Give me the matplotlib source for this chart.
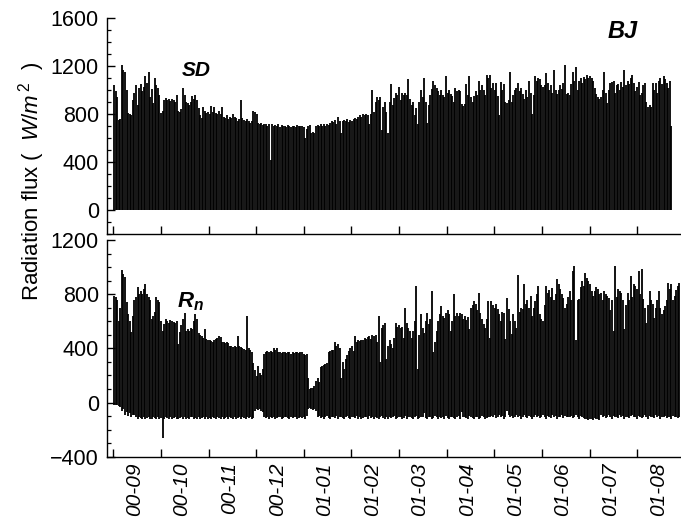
import numpy as np
import matplotlib
matplotlib.use("Agg")
import matplotlib.pyplot as plt

plt.rcParams['font.family'] = 'Liberation Sans'
plt.rcParams['mathtext.fontset'] = 'custom'
plt.rcParams['mathtext.rm'] = 'Liberation Sans'
plt.rcParams['mathtext.it'] = 'Liberation Sans:italic'
plt.rcParams['mathtext.bf'] = 'Liberation Sans:bold'
plt.rcParams['mathtext.bfit'] = 'Liberation Sans:italic:bold'

# month labels (yy-mm), one per tick
months = ['00-09', '00-10', '00-11', '00-12', '01-01', '01-02',
          '01-03', '01-04', '01-05', '01-06', '01-07', '01-08']

# daily peak of downward shortwave (SD), W/m2, night values are zero
sd_peak = [
    1040, 990, 940, 750, 760, 1210, 1170, 1150, 1000, 810, 800, 790,
    920, 980, 1040, 880, 1020, 1050, 990, 1030, 1120, 1060, 1150, 940,
    1010, 890, 1100, 1040, 1020, 960, 810, 830, 920, 935, 920, 930,
    910, 925, 915, 900, 960, 830, 820, 840, 1020, 960, 900, 890,
    880, 900, 950, 930, 960, 920, 850, 790, 770, 860, 830, 810,
    820, 800, 870, 820, 860, 810, 800, 830, 800, 860, 780, 770,
    790, 760, 780, 770, 800, 780, 770, 740, 760, 920, 770, 750,
    740, 760, 745, 730, 740, 830, 820, 800, 730, 720, 725, 710,
    720, 715, 700, 720, 415, 720, 705, 710, 700, 715, 690, 710,
    700, 705, 695, 710, 700, 690, 705, 700, 695, 710, 700, 705,
    # 01-01 onwards
    700, 690, 600, 680, 700, 710, 640, 650, 640, 705,
    710, 700, 720, 705, 715, 700, 720, 710, 730, 740,
    735, 750, 720, 775, 740, 640, 745, 750, 740, 760,
    735, 755, 745, 760, 770, 760, 775, 790, 780, 800,
    795, 800, 790, 715, 800, 1000, 820, 900, 940, 920,
    945, 670, 860, 900, 820, 640, 900, 1050, 880, 935,
    980, 960, 1030, 920, 980, 960, 975, 960, 1090, 930,
    880, 900, 795, 850, 720, 900, 1000, 940, 1100, 900,
    730, 880, 960, 1010, 1075, 1040, 1015, 990, 960, 1000,
    960, 940, 1120, 980, 1000, 970, 950, 900, 1015, 990,
    1000, 990, 885, 870, 885, 1050, 960, 1120, 940, 900,
    950, 990, 960, 1075, 1000, 1040, 1000, 960, 1125, 1100,
    1125,
    # 01-05 onwards
    1020, 1060, 1000, 1060, 950, 790, 1065, 1000, 1050, 900,
    890, 915, 1155, 900, 960, 1000, 1015, 1060, 990, 1020,
    970, 930, 1000, 940, 1075, 980, 800, 960, 1115, 1080,
    1100, 1090, 1040, 1030, 1040, 1140, 1060, 1000, 1040, 980,
    1165, 1000, 970, 1000, 1040, 1010, 1060, 1210, 970, 980,
    960, 1050, 1150, 1080, 1195, 1000, 1080, 1100, 1060, 1110,
    1090, 1130, 1100, 1120, 1100, 1080, 1020, 970, 940, 930,
    940, 1000, 1155, 980, 890, 1000, 1060, 1070, 1075, 980,
    1040, 1050, 1000, 1065, 1030, 1165, 1040, 1080, 1050, 1100,
    1130, 1060, 990, 1030, 1065, 960, 980, 1040, 1060, 900,
    860, 880, 860, 1060, 1000, 1060, 980, 1075, 1100, 1050,
    1120, 1090, 1060, 1020, 1075, 700,
]

# daily maximum of net radiation (Rn), W/m2
rn_max = [
    790, 780, 760, 600, 700, 980, 950, 925, 740, 650, 600, 520,
    640, 760, 780, 850, 800, 820, 800, 840, 875, 800, 780, 760,
    615, 640, 665, 780, 760, 740, 600, 525, 580, 615, 600, 590,
    610, 600, 595, 590, 600, 430, 520, 575, 620, 660, 525, 540,
    530, 550, 545, 600, 650, 620, 510, 500, 490, 480, 540, 470,
    465, 460, 455, 450, 460, 470, 480, 490, 485, 450, 445, 440,
    450, 440, 420, 415, 410, 420, 410, 490, 420, 410, 400, 395,
    390, 640, 400, 385, 370, 290, 240, 195, 270, 220, 200, 250,
    360, 370, 380, 375, 380, 370, 400, 390, 400, 375, 370, 365,
    375, 370, 365, 370, 375, 360, 370, 365, 375, 370, 365, 370,
    # 01-01 onwards
    370, 360, 350, 355, 180, 100, 110, 105, 120, 160,
    180, 155, 265, 270, 280, 285, 290, 375, 380, 385,
    390, 450, 420, 430, 400, 180, 300, 250, 320, 350,
    380, 400, 420, 380, 490, 450, 460, 455, 465, 465,
    480, 470, 485, 490, 470, 500, 490, 500, 450, 640,
    300, 550, 570, 590, 325, 420, 465, 430, 400, 480,
    590, 560, 575, 550, 560, 480, 700, 590, 550, 525,
    480, 525, 600, 860, 250, 500, 650, 550, 510, 600,
    660, 580, 620, 825, 375, 450, 525, 600, 650, 710,
    640, 625, 660, 685, 650, 525, 600, 800, 640, 660,
    640, 660, 650, 620, 640, 610, 630, 540, 700, 720,
    750, 730, 680, 810, 660, 620, 580, 550, 620, 750,
    480,
    # 01-05 onwards
    750, 720, 700, 730, 690, 650, 600, 665, 660, 470,
    775, 690, 600, 505, 650, 600, 550, 945, 665, 700,
    690, 875, 725, 760, 700, 790, 640, 700, 750, 800,
    860, 650, 620, 600, 720, 860, 810, 830, 780, 845,
    760, 800, 910, 875, 840, 800, 775, 700, 725, 780,
    825, 760, 970, 1010, 460, 760, 765, 850, 900, 860,
    955, 920, 900, 875, 820, 790, 820, 850, 840, 800,
    805, 760, 825, 800, 790, 775, 680, 760, 530, 1010,
    780, 840, 820, 805, 760, 540, 720, 805, 760, 935,
    780, 875, 860, 840, 970, 800, 985, 765, 700, 590,
    720, 825, 760, 725, 625, 700, 760, 825, 700, 650,
    680, 710, 760, 885, 840, 875, 760, 790, 830, 860,
    885,
]

# daily (night-time) minimum of net radiation, W/m2
rn_min = [
    -15, -20, -20, -25, -30, -60, -50, -90, -70, -100, -80, -105, -95, -90,
    -110, -120, -105, -115, -125, -110, -120, -115, -105, -120, -125, -110,
    -115, -120, -110, -125, -115, -262,
    -120, -110, -115, -125, -105, -120, -115, -110, -125, -120,
    -115, -105, -120, -110, -125, -115, -120, -110, -105, -120,
    -115, -125, -110, -120, -115, -105, -120, -110, -125, -115,
    -120, -110, -115, -120, -105, -115, -125, -110, -120, -115,
    -110, -120, -105, -115, -125, -110, -120, -115, -105, -120,
    -110, -115, -120, -105, -115, -110, -120, -115,
    -60, -50, -55, -45, -60, -70,
    -105, -115, -110, -120, -105, -115, -110, -120, -115, -105, -110, -120,
    -115, -110, -105, -115, -120, -110, -115, -105, -110, -120, -115, -110,
    # 01-01 onwards
    -115, -110, -120, -100, -50, -40, -45, -55, -50, -60,
    -110, -100, -115, -105, -120, -110, -100, -115, -120, -105,
    -110, -115, -100, -120, -110, -105, -115, -125, -110, -100,
    -115, -120, -105, -110, -115, -100, -120, -110, -125, -115,
    -105, -110, -120, -100, -115, -110, -125, -105, -115, -120,
    -110, -100, -115, -125, -110, -120, -105, -115, -110, -100,
    -120, -115, -105, -110, -125, -115, -100, -120, -110, -105,
    -115, -125, -110, -100, -120, -115, -105, -110, -80, -115,
    -120, -105, -110, -125, -115, -100, -110, -120, -105, -115,
    -110, -125, -100, -115, -120, -110, -105, -115, -125, -110,
    -100, -120, -70, -110, -105, -115, -120, -100, -110, -115,
    -125, -105, -110, -120, -115, -100, -110, -125, -115, -105,
    -110,
    # 01-05 onwards
    -100, -110, -95, -115, -105, -90, -110, -100, -120, -105,
    -60, -95, -110, -100, -115, -105, -90, -110, -100, -120,
    -110, -95, -105, -115, -100, -110, -120, -105, -95, -110,
    -100, -115, -105, -90, -110, -120, -100, -105, -115, -95,
    -110, -100, -120, -105, -110, -95, -115, -100, -110, -105,
    -110, -100, -115, -105, -95, -110, -120, -100, -105, -115,
    -120, -125, -130, -120, -125, -130, -115, -125, -120, -130,
    -90, -110, -100, -115, -105, -95, -110, -120, -100, -110,
    -105, -115, -95, -110, -100, -120, -105, -110, -115, -100,
    -95, -110, -105, -120, -100, -110, -115, -105, -95, -110,
    -120, -100, -110, -105, -115, -95, -110, -100, -120, -105,
    -110, -100, -115, -105, -110, -120, -100, -110, -105, -115,
    -110,
]

MONTH = 365.0 / 12


def style_axis(ax, ylim, major, label_x):
    ax.set_ylim(*ylim)
    ax.set_xlim(-3.8, 362.6)
    ax.set_yticks(major)
    ax.set_yticks(np.arange(ylim[0], ylim[1] + 1, 100), minor=True)
    ax.set_xticks(np.arange(len(months)) * MONTH)
    ax.spines['top'].set_visible(False)
    ax.spines['right'].set_visible(False)
    for side in ('left', 'bottom'):
        ax.spines[side].set_linewidth(1.0)
    ax.tick_params(axis='both', which='major', direction='in', length=6,
                   width=1.0, labelsize=15.5, right=False, top=False)
    ax.tick_params(axis='y', which='major', pad=6)
    ax.tick_params(axis='y', which='minor', direction='in', length=3,
                   width=0.9)
    ax.set_xticklabels([])
    if label_x:
        # month names sit half-way into each month
        ax.set_xticks(np.arange(len(months)) * MONTH + 13.4, minor=True)
        ax.set_xticklabels(months, minor=True, rotation=90, style='italic',
                           fontsize=15)
        ax.tick_params(axis='x', which='minor', length=0, pad=4)
    else:
        ax.tick_params(axis='x', which='minor', length=0)


fig = plt.figure(figsize=(6.81, 5.18), dpi=100)
ax_sd = fig.add_axes([0.1576, 0.5483, 0.8424, 0.4164])
ax_rn = fig.add_axes([0.1576, 0.1183, 0.8424, 0.4184])

# one vertical stroke per day, from the night value to the daytime peak
sd_days = np.arange(len(sd_peak)) + 0.5
ax_sd.vlines(sd_days, 0, sd_peak, color='black', lw=1.3)
style_axis(ax_sd, (-200, 1600), [0, 400, 800, 1200, 1600], False)
ax_sd.text(52.8, 1167, 'SD', fontsize=15, fontweight='bold',
           style='italic', ha='center', va='center')
ax_sd.text(325.5, 1489, 'BJ', fontsize=17, fontweight='bold',
           style='italic', ha='center', va='center')

rn_days = np.arange(len(rn_max)) + 0.5
ax_rn.vlines(rn_days, rn_min, rn_max, color='black', lw=1.3)
style_axis(ax_rn, (-400, 1200), [-400, 0, 400, 800, 1200], True)
ax_rn.text(49.5, 745, r'$\mathbfit{R_n}$', fontsize=16,
           ha='center', va='center')

fig.text(0.046, 0.65, r'Radiation flux (  $W/m^{\,2}$  )', rotation=90,
         ha='center', va='center', fontsize=16)

fig.savefig('out.png', dpi=100)
